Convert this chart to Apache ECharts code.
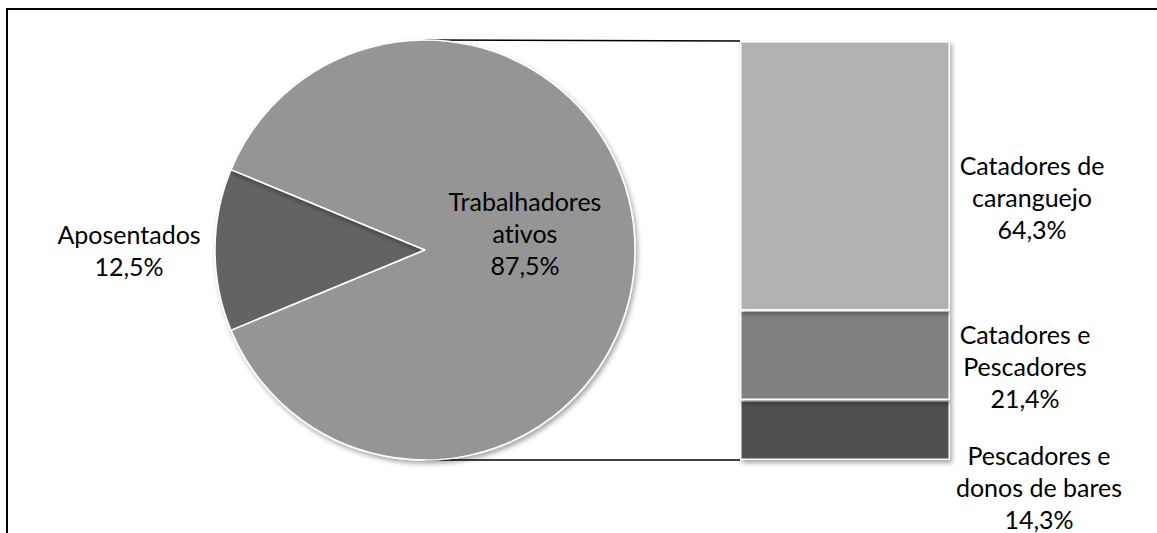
<!DOCTYPE html>
<html>
<head>
<meta charset="utf-8">
<script src="https://cdn.jsdelivr.net/npm/echarts@6/dist/echarts.min.js"></script>
<style>
html,body{margin:0;padding:0;background:#fff;}
#chart{width:1157px;height:533px;}
#chart text{font-variant-ligatures:none;font-feature-settings:"liga" 0,"clig" 0;}
</style>
</head>
<body>
<div id="chart"></div>
<script>
// ---- data ----
var pieNames = ['Aposentados', 'Trabalhadores ativos'];
var pieValues = [12.5, 87.5];
var pieLabels = ['Aposentados\n12,5%', 'Trabalhadores\nativos\n87,5%'];

var barNames = ['Pescadores e donos de bares', 'Catadores e Pescadores', 'Catadores de caranguejo'];
var barValues = [14.3, 21.4, 64.3];
var barLabels = ['Pescadores e\ndonos de bares\n14,3%', 'Catadores e\nPescadores\n21,4%', 'Catadores de\ncaranguejo\n64,3%'];

// ---- layout / style ----
var FONT = 'Lato';
var FS = 25;
var LH = 32;
var pieCx = 425, pieCy = 250, pieR = 210;
var barLeft = 740, barTop = 41, barW = 210, barH = 419;
var pieColors = ['#636363', '#959595'];
var barColors = ['#505050', '#808080', '#b2b2b2'];
var barLabelPos = [[299, 87], [285, 56], [292, 156]];
var shadow = {shadowBlur: 5, shadowOffsetX: 2, shadowOffsetY: 3, shadowColor: 'rgba(0,0,0,0.35)'};

var chart = echarts.init(document.getElementById('chart'), null, {renderer: 'svg'});

function richLines(txt) {
  return txt.split('\n').map(function (s) { return '{a|' + s + '}'; }).join('\n');
}

var pieData = pieNames.map(function (n, i) {
  var item = {name: n, value: pieValues[i], itemStyle: Object.assign({color: pieColors[i], borderColor: '#fff', borderWidth: 1.5}, shadow)};
  if (i === 0) {
    item.label = {
      position: 'outside',
      formatter: function () { return richLines(pieLabels[0]); },
      rich: {a: {width: 146, align: 'center', fontFamily: FONT, fontSize: FS, lineHeight: LH, color: '#000'}}
    };
    item.labelLine = {show: false, length: 0, length2: 8};
  } else {
    item.label = {
      position: 'inside',
      formatter: function () { return richLines(pieLabels[1]) + '\n{s| }'; },
      rich: {
        a: {width: 170, align: 'center', fontFamily: FONT, fontSize: FS, lineHeight: LH, color: '#000'},
        s: {fontSize: 10, lineHeight: 34}
      },
      padding: [0, 16, 0, 0]
    };
  }
  return item;
});

var barSeries = barNames.map(function (n, i) {
  return {
    name: n,
    type: 'bar',
    stack: 'total',
    barWidth: '100%',
    data: [barValues[i]],
    itemStyle: Object.assign({color: barColors[i], borderColor: '#fff', borderWidth: 1.5}, shadow),
    label: {
      show: true,
      position: barLabelPos[i],
      align: 'center',
      verticalAlign: 'middle',
      formatter: function () { return barLabels[i]; },
      fontFamily: FONT, fontSize: FS, lineHeight: LH, color: '#000'
    },
    silent: true
  };
});

var option = {
  backgroundColor: '#fff',
  animation: false,
  textStyle: {fontFamily: FONT},
  grid: {left: barLeft, top: barTop, width: barW, height: barH},
  xAxis: {type: 'category', data: ['Trabalhadores ativos'], show: false},
  yAxis: {type: 'value', min: 0, max: 100, show: false},
  graphic: [
    {type: 'rect', shape: {x: 7, y: 9, width: 1300, height: 700}, style: {fill: 'none', stroke: '#000', lineWidth: 2}, z: 0, silent: true},
    {type: 'line', shape: {x1: pieCx, y1: pieCy - pieR, x2: barLeft, y2: barTop}, style: {stroke: '#000', lineWidth: 1.5}, z: 1, silent: true},
    {type: 'line', shape: {x1: pieCx, y1: pieCy + pieR, x2: barLeft, y2: barTop + barH}, style: {stroke: '#000', lineWidth: 1.5}, z: 1, silent: true}
  ],
  series: [{
    type: 'pie',
    center: [pieCx, pieCy],
    radius: pieR,
    startAngle: 202.5,
    clockwise: true,
    silent: true,
    label: {fontFamily: FONT, fontSize: FS, lineHeight: LH, color: '#000'},
    data: pieData
  }].concat(barSeries)
};
chart.setOption(option);
</script>
</body>
</html>
